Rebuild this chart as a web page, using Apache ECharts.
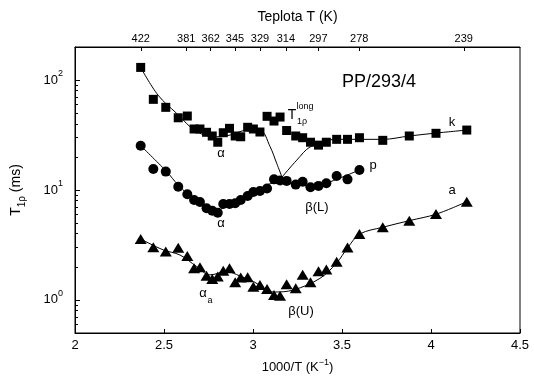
<!DOCTYPE html>
<html><head><meta charset="utf-8">
<script src="https://cdn.jsdelivr.net/npm/echarts@6/dist/echarts.min.js"></script>
<style>html,body{margin:0;padding:0;background:#fff}#c{width:534px;height:380px}</style>
</head><body><div id="c"></div>
<script>
// ---- data ----
const invT = [2.369,2.440,2.510,2.580,2.631,2.669,2.702,2.739,2.771,2.802,2.833,2.868,2.900,2.931,2.970,3.002,3.039,3.079,3.118,3.152,3.189,3.240,3.279,3.323,3.368,3.412,3.470,3.531,3.598,3.729,3.878,4.028,4.201];
const kVals = [130.4,66.8,56.5,45.4,47.1,35.9,35.9,33.5,31.0,27.2,33.2,36.4,31.0,30.5,37.2,35.9,33.7,46.8,42.4,46.1,34.8,31.0,29.9,27.2,25.6,27.2,28.9,28.9,29.9,28.3,31.0,32.8,35.1];
const pVals = [25.3,15.5,14.7,10.7,9.14,8.11,7.78,6.82,6.48,6.22,7.46,7.46,7.57,8.11,8.82,9.59,9.79,10.3,12.5,12.2,12.1,11.2,11.9,10.6,10.9,11.5,13.4,12.5,15.2];
const aVals = [3.58,3.01,2.75,2.99,2.51,1.94,1.98,1.66,1.55,1.63,1.84,1.94,1.45,1.60,1.61,1.32,1.37,1.26,1.11,1.09,1.39,1.28,1.69,1.45,1.82,1.89,2.22,3.00,3.98,4.58,5.26,6.05,7.83];

// fitted curves
const fitK1X = [2.369,2.466,2.571,2.684,2.796,2.871,2.970,3.039,3.096,3.133,3.163];
const fitK1Y = [130.4,73.1,49.8,33.9,30.5,31.6,35.1,35.1,24.8,17.5,13.1];
const fitK2X = [3.163,3.246,3.324,3.470,3.729,3.878,4.032,4.201];
const fitK2Y = [13.1,18.7,24.8,28.9,28.9,31.0,33.0,35.1];
const fitPX = [2.369,2.515,2.580,2.684,2.796,2.871,3.002,3.114,3.240,3.320,3.410,3.597];
const fitPY = [25.3,14.7,11.1,7.83,6.58,7.46,9.33,11.5,11.5,10.7,11.5,15.2];
const fitAX = [2.369,2.496,2.590,2.684,2.758,2.852,2.927,3.002,3.114,3.226,3.376,3.470,3.532,3.601,3.729,3.878,4.032,4.201];
const fitAY = [3.58,2.85,2.56,2.01,1.69,1.81,1.65,1.47,1.18,1.23,1.57,2.17,2.99,3.98,4.58,5.26,6.05,7.83];

// axes
const topLabels = [422,381,362,345,329,314,297,278,239];
const yMajor = [1,10,100];
const yMinor = [0.6,0.7,0.8,0.9,2,3,4,5,6,7,8,9,20,30,40,50,60,70,80,90];

const FONT = 'Liberation Sans, Arial, Helvetica, sans-serif';
const topPos = topLabels.map(t => 1000 / t);
const zip = (xs, ys) => ys.map((y, i) => [xs[i], y]);

const chart = echarts.init(document.getElementById('c'), null, {renderer: 'canvas'});
const black = '#000';
const lineSeries = (xs, ys) => ({
  type: 'line', data: zip(xs, ys), smooth: 0.35, showSymbol: false, symbol: 'none',
  lineStyle: {color: black, width: 1}, z: 1, silent: true, animation: false
});
const ptSeries = (vals, symbol, size) => ({
  type: 'scatter', data: zip(invT, vals), symbol, symbolSize: size,
  itemStyle: {color: black, opacity: 1}, z: 3, animation: false
});
const txt = (x, y, text, size, extra) => ({
  type: 'text', x, y, z: 10,
  style: Object.assign({text, font: size + 'px ' + FONT, fill: black, align: 'center', verticalAlign: 'middle'}, extra || {})
});

chart.setOption({
  animation: false,
  backgroundColor: '#fff',
  grid: {left: 75, right: 14, top: 47, bottom: 47, show: true, borderColor: black, borderWidth: 1},
  xAxis: [
    {
      type: 'value', position: 'bottom', min: 2, max: 4.5, interval: 0.5,
      axisLine: {show: true, lineStyle: {color: black, width: 1}},
      axisTick: {show: true, inside: true, length: 4, lineStyle: {color: black}},
      axisLabel: {color: black, fontSize: 13, fontFamily: FONT, margin: 6, showMinLabel: true, showMaxLabel: true},
      splitLine: {show: false},
      name: '{n|1000/T (K}{s|−1}{n|)}', nameLocation: 'middle', nameGap: 25,
      nameTextStyle: {rich: {
        n: {fontSize: 13, fontFamily: FONT, color: black, lineHeight: 18},
        s: {fontSize: 9, fontFamily: FONT, color: black, verticalAlign: 'top', lineHeight: 10}
      }}
    },
    {
      type: 'value', position: 'top', min: 2, max: 4.5,
      axisLine: {show: true, lineStyle: {color: black, width: 1}},
      axisTick: {show: true, inside: true, length: 4, customValues: topPos, lineStyle: {color: black}},
      axisLabel: {color: black, fontSize: 11, fontFamily: FONT, margin: 3, customValues: topPos,
        formatter: v => { const i = topPos.findIndex(p => Math.abs(p - v) < 1e-6); return i >= 0 ? String(topLabels[i]) : ''; }},
      splitLine: {show: false},
      name: 'Teplota T (K)', nameLocation: 'middle', nameGap: 23,
      nameTextStyle: {fontSize: 14, fontFamily: FONT, color: black}
    }
  ],
  yAxis: [
    {
      type: 'log', logBase: 10, min: 0.5, max: 200, position: 'left',
      axisLine: {show: true, lineStyle: {color: black, width: 1}},
      axisTick: {show: true, inside: true, length: 5, customValues: yMajor, lineStyle: {color: black}},
      axisLabel: {customValues: yMajor, margin: 12,
        formatter: v => '{b|10}{s|' + Math.round(Math.log10(v)) + '}',
        rich: {
          b: {fontSize: 13, fontFamily: FONT, color: black, lineHeight: 22},
          s: {fontSize: 9, fontFamily: FONT, color: black, verticalAlign: 'top', lineHeight: 12}
        }},
      splitLine: {show: false},
      name: '{n|T}{s|1ρ}{n| (ms)}', nameLocation: 'middle', nameGap: 48, nameRotate: 90,
      nameTextStyle: {rich: {
        n: {fontSize: 14, fontFamily: FONT, color: black, lineHeight: 22},
        s: {fontSize: 10, fontFamily: FONT, color: black, verticalAlign: 'bottom', lineHeight: 12}
      }}
    },
    {
      type: 'log', logBase: 10, min: 0.5, max: 200, position: 'left', offset: 0,
      axisLine: {show: true, lineStyle: {color: 'rgba(0,0,0,0)'}},
      axisTick: {show: true, inside: true, length: 3, customValues: yMinor, lineStyle: {color: black}},
      axisLabel: {show: true, customValues: yMinor, formatter: () => ''},
      splitLine: {show: false}
    }
  ],
  series: [
    lineSeries(fitK1X, fitK1Y),
    lineSeries(fitK2X, fitK2Y),
    lineSeries(fitPX, fitPY),
    lineSeries(fitAX, fitAY),
    ptSeries(kVals, 'rect', 9),
    ptSeries(pVals, 'circle', 10),
    ptSeries(aVals, 'triangle', [12, 10])
  ],
  graphic: [
    txt(379, 82, 'PP/293/4', 18),
    txt(292, 115, 'T', 14),
    txt(305, 107, 'long', 9),
    txt(302, 122, '1ρ', 9),
    txt(452, 122, 'k', 13),
    txt(373, 165, 'p', 13),
    txt(452, 190, 'a', 13),
    txt(221, 153, 'α', 13),
    txt(221, 223, 'α', 13),
    txt(317, 207, 'β(L)', 13),
    txt(203, 293, 'α', 13),
    txt(210, 301, 'a', 9),
    txt(301, 311, 'β(U)', 13)
  ]
});
</script></body></html>
